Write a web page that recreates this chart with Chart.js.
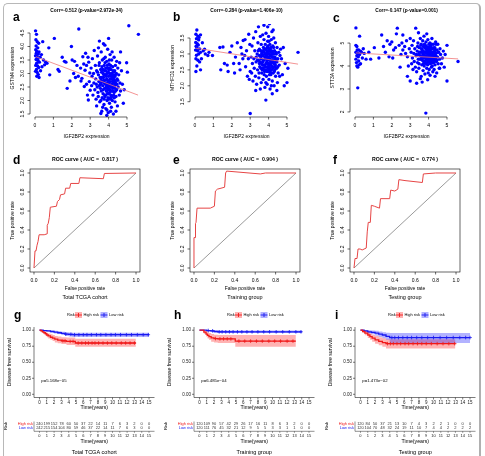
<!DOCTYPE html>
<html><head><meta charset="utf-8">
<script src="https://cdn.jsdelivr.net/npm/chart.js@4.4.1/dist/chart.umd.min.js"></script>
<style>
html,body{margin:0;padding:0;background:#fff;}
#wrap{position:relative;width:485px;height:456px;overflow:hidden;background:#fff;}
#frame{position:absolute;left:3px;top:3px;width:478px;height:480px;border:1px solid #b8b8b8;border-right:2px solid #b0b0b0;border-radius:5px;box-sizing:border-box;}
canvas{position:absolute;}
</style></head><body>
<div id="wrap"><div id="frame"></div>
<canvas id="cA" width="160" height="140" style="left:0;top:0"></canvas>
<canvas id="cB" width="160" height="140" style="left:160px;top:0"></canvas>
<canvas id="cC" width="160" height="140" style="left:320px;top:0"></canvas>
<canvas id="cD" width="160" height="160" style="left:0;top:140px"></canvas>
<canvas id="cE" width="160" height="160" style="left:160px;top:140px"></canvas>
<canvas id="cF" width="160" height="160" style="left:320px;top:140px"></canvas>
<canvas id="cG" width="160" height="156" style="left:0;top:300px"></canvas>
<canvas id="cH" width="160" height="156" style="left:160px;top:300px"></canvas>
<canvas id="cI" width="160" height="156" style="left:321px;top:300px"></canvas>
</div>
<script>
// ---------------- DATA ----------------
const scatterTicksX = [0,1,2,3,4,5];
const scatterA = [[0.03,4.58],[0.08,4.45],[0.05,4.25],[0.12,4.18],[0.2,4.12],[0.06,4.02],[0.15,3.95],[0.04,3.88],[0.1,3.82],[0.22,3.8],[0.07,3.75],[0.18,3.72],[0.03,3.66],[0.12,3.62],[0.28,3.6],[0.06,3.52],[0.16,3.48],[0.24,3.42],[0.09,3.38],[0.04,3.3],[0.14,3.28],[0.2,3.22],[0.08,3.15],[0.03,3.08],[0.12,3.04],[0.18,2.96],[0.1,2.9],[0.22,2.85],[0.3,3.1],[0.35,3.7],[0.42,4.18],[0.46,3.5],[0.52,3.32],[0.58,3.42],[0.65,3.38],[0.38,3.25],[0.15,3.55],
[0.75,3.95],[0.8,2.95],[1.05,4.3],[1.25,3.15],[1.32,3.08],[1.48,3.6],[1.68,3.42],[1.75,2.45],[1.9,2.72],[1.98,4.0],[2.02,3.5],[2.1,3.0],[2.15,3.45],[2.28,3.3],[2.38,4.65],[2.35,2.9],[2.48,3.2],[2.55,2.82],[2.6,3.62],[2.68,2.52],[2.72,3.12],[2.8,3.3],[2.85,2.2],[2.88,3.6],[2.9,2.02],[2.95,2.7],[2.98,3.02],[2.5,2.72],[2.65,3.35],[2.75,3.75],[2.92,3.42],[3.0,2.38],[2.8,2.6],[2.2,2.85],[1.6,3.45],
[3.05,3.2],[3.08,2.55],[3.1,2.9],[3.12,3.55],[3.15,2.2],[3.18,3.0],[3.2,2.65],[3.22,3.85],[3.25,2.4],[3.28,3.3],[3.3,2.8],[3.32,2.05],[3.35,3.1],[3.38,2.5],[3.4,3.65],[3.42,2.3],[3.45,2.95],[3.47,2.7],[3.5,3.4],[3.52,1.95],[3.55,2.6],[3.57,3.15],[3.6,2.35],[3.6,3.8],[3.62,2.85],[3.63,1.6],[3.65,2.1],[3.66,3.5],[3.68,2.55],[3.7,3.0],[3.7,2.25],[3.72,4.1],[3.73,2.75],[3.75,1.85],[3.76,3.3],[3.78,2.45],[3.8,2.95],[3.8,2.15],[3.82,3.6],[3.83,2.6],[3.85,1.7],[3.86,3.1],[3.88,2.35],[3.9,2.8],[3.9,3.45],[3.92,2.0],[3.93,2.65],[3.95,3.9],[3.96,2.5],[3.97,3.2],[3.98,1.55],[4.0,2.9],[4.0,2.25],[4.02,3.35],[4.03,2.7],[4.05,1.9],[4.06,3.0],[4.07,2.4],[4.08,3.7],[4.1,2.55],[4.1,2.1],[4.12,3.15],[4.13,2.8],[4.15,1.75],[4.16,2.35],[4.17,3.5],[4.18,2.6],[4.2,2.95],[4.2,2.0],[4.22,3.25],[4.23,2.45],[4.25,2.75],[4.26,1.5],[4.28,3.05],[4.3,2.3],[4.3,3.6],[4.32,2.55],[4.34,2.9],[4.35,1.95],[4.37,3.3],[4.38,2.65],[4.4,2.15],[4.42,3.0],[4.44,2.4],[4.46,2.8],[4.48,1.8],[4.5,3.2],[4.52,2.5],[4.55,2.95],[4.58,2.2],[4.6,3.4],[4.62,2.65],[4.65,2.35],[3.35,1.8],[3.45,3.95],[3.58,2.0],[3.74,3.55],[3.87,2.9],[3.94,2.25],[4.04,3.5],[4.14,2.05],[4.24,2.85],[4.36,2.7],[4.44,3.45],[3.68,1.75],[3.81,3.4],[4.01,2.55],[4.19,3.8],[3.91,1.65],[4.09,2.95],[3.77,2.65],[3.99,3.05],[4.27,2.2],[3.54,2.85],[3.64,3.25],[4.11,1.6],[3.84,2.2],[4.33,3.1],
[3.55,2.45],[3.62,3.05],[3.67,2.7],[3.71,2.4],[3.74,2.95],[3.79,2.2],[3.81,2.75],[3.84,3.2],[3.86,2.45],[3.89,2.6],[3.91,3.0],[3.94,2.75],[3.96,2.1],[3.99,2.4],[4.01,3.15],[4.04,2.6],[4.06,2.3],[4.08,2.8],[4.11,3.3],[4.13,2.5],[4.15,2.9],[4.18,2.15],[4.21,2.7],[4.24,3.1],[4.26,2.5],[4.29,2.85],[4.31,2.1],[4.34,2.45],[4.37,2.95],[4.4,2.6],[3.6,2.65],[3.69,3.15],[3.76,2.05],[3.83,2.95],[3.87,2.5],[3.93,3.3],[3.97,2.6],[4.02,2.05],[4.07,2.7],[4.12,2.2],[4.17,3.0],[4.22,2.35],[4.27,2.65],[4.32,2.75],[3.5,2.55],[3.44,2.15],[3.4,3.05],[3.48,3.3],[3.58,2.75],[3.72,2.85],[3.78,3.1],[3.9,2.35],[4.0,2.45],[4.05,3.2],[4.16,2.55],[4.23,2.95],[4.38,2.35],[4.45,2.6],[4.5,2.75],[3.33,2.6],
[5.1,4.77],[5.62,4.45],[4.98,3.4],[5.02,3.05],[4.75,2.6],[4.85,2.4],[4.7,3.1],[4.8,1.9],[3.58,1.52],[3.9,1.45],[4.4,1.6],[4.65,3.8],[3.5,4.2],[3.8,4.05],[4.0,4.3]];
const regA = [[0.05,3.62],[5.6,2.2]];

const scatterB = [[0.1,3.75],[0.05,3.62],[0.15,3.56],[0.3,3.6],[0.08,3.48],[0.2,3.44],[0.04,3.36],[0.12,3.32],[0.18,3.28],[0.06,3.24],[0.1,3.2],[0.25,3.16],[0.03,3.12],[0.14,3.1],[0.3,3.05],[0.2,3.0],[0.08,2.96],[0.05,2.85],[0.16,2.8],[0.25,2.75],[0.1,2.62],[0.3,2.5],[0.05,2.45],[0.35,2.85],[0.45,3.1],[0.52,3.15],[0.56,3.0],[0.7,2.95],[0.76,3.05],[0.95,2.95],[0.4,3.35],[0.22,3.52],
[1.35,3.2],[1.4,2.5],[1.52,3.22],[1.75,2.65],[1.8,2.45],[1.9,3.05],[2.0,3.25],[2.1,2.7],[2.15,2.4],[2.3,3.35],[2.4,2.7],[2.45,2.5],[2.55,3.0],[2.62,3.42],[2.72,3.45],[2.75,2.6],[2.8,3.1],[2.85,2.3],[2.95,2.2],[2.92,3.62],[3.0,1.13],[2.2,2.9],[2.6,2.85],[2.9,2.85],[2.5,3.2],[2.7,2.95],[2.98,3.3],[3.0,2.45],[1.6,2.7],
[3.05,2.9],[3.08,2.4],[3.1,3.25],[3.12,2.7],[3.15,2.15],[3.18,3.5],[3.2,2.85],[3.22,2.55],[3.25,3.1],[3.28,2.3],[3.3,3.7],[3.32,2.75],[3.35,2.05],[3.38,3.0],[3.4,2.5],[3.42,3.35],[3.45,2.8],[3.47,2.25],[3.5,3.15],[3.52,2.6],[3.55,3.55],[3.57,2.9],[3.6,2.1],[3.6,3.3],[3.62,2.7],[3.63,2.4],[3.65,3.05],[3.66,2.95],[3.68,3.6],[3.7,2.55],[3.7,2.2],[3.72,3.2],[3.73,2.8],[3.75,3.45],[3.76,2.35],[3.78,2.65],[3.8,3.0],[3.8,1.95],[3.82,3.3],[3.83,2.5],[3.85,2.85],[3.86,3.65],[3.88,2.3],[3.9,2.75],[3.9,3.1],[3.92,2.05],[3.93,2.6],[3.95,3.4],[3.96,2.9],[3.97,2.45],[3.98,3.2],[4.0,2.7],[4.0,3.55],[4.02,2.2],[4.03,3.0],[4.05,2.55],[4.06,2.85],[4.07,3.3],[4.08,1.9],[4.1,2.65],[4.1,3.1],[4.12,2.35],[4.13,2.95],[4.15,3.45],[4.16,2.5],[4.17,2.8],[4.18,3.7],[4.2,2.15],[4.2,3.0],[4.22,2.6],[4.23,3.25],[4.25,2.4],[4.26,2.9],[4.28,3.5],[4.3,2.7],[4.3,2.0],[4.32,3.1],[4.34,2.5],[4.35,2.85],[4.37,3.35],[4.38,2.3],[4.4,2.75],[4.42,3.0],[4.44,2.55],[4.46,3.2],[4.48,2.1],[4.5,2.85],[4.52,2.4],[4.55,3.05],[4.58,2.65],[4.6,2.3],[4.62,2.95],[4.65,3.15],[3.95,3.85],[3.75,3.9],[4.05,3.95],[3.45,3.85],[3.85,2.1],[3.65,2.5],[4.15,2.0],[4.25,3.75],[3.5,2.95],[3.58,3.1],[3.78,3.15],[3.98,2.55],[4.12,2.75],[4.33,2.6],[3.88,2.95],[4.02,3.4],[3.7,2.95],[3.92,3.2],[4.08,2.45],
[3.55,2.75],[3.62,3.0],[3.67,2.65],[3.71,3.1],[3.74,2.5],[3.79,2.9],[3.81,2.6],[3.84,3.15],[3.86,2.7],[3.89,3.0],[3.91,2.45],[3.94,2.8],[3.96,3.25],[3.99,2.6],[4.01,2.9],[4.04,3.15],[4.06,2.65],[4.08,2.95],[4.11,2.4],[4.13,3.2],[4.15,2.7],[4.18,2.9],[4.21,3.05],[4.24,2.55],[4.26,2.75],[4.29,3.0],[4.31,2.45],[4.34,2.9],[4.37,2.65],[4.4,3.05],[3.6,2.85],[3.69,2.75],[3.76,3.05],[3.83,2.85],[3.87,2.5],[3.93,3.05],[3.97,2.7],[4.02,2.5],[4.07,2.8],[4.12,3.05],[4.17,2.6],[4.22,2.8],[4.27,3.2],[4.32,2.7],[3.5,2.7],[3.44,3.1],[3.4,2.8],[3.48,2.4],[3.58,2.55],[3.72,2.65],[3.78,2.45],[3.9,2.85],[4.0,3.1],[4.05,2.35],[4.16,3.1],[4.23,2.9],[4.38,2.85],[4.45,2.75],[4.5,2.6],[3.33,2.9],
[5.6,3.05],[5.0,2.1],[4.9,2.7],[5.05,2.55],[4.2,1.75],[3.85,1.55],[4.7,2.85],[4.8,3.2],[4.75,2.35],[4.85,2.0],[3.3,1.85],[3.55,1.9],[4.45,1.85]];
const regB = [[0.05,3.18],[5.6,2.68]];

const scatterC = [[0.05,5.66],[0.25,5.3],[0.05,4.9],[0.1,4.85],[0.2,4.7],[0.05,4.6],[0.15,4.55],[0.1,4.45],[0.25,4.5],[0.05,4.3],[0.2,4.22],[0.3,4.1],[0.1,4.0],[0.15,3.95],[0.35,4.6],[0.5,4.55],[0.6,4.3],[0.75,4.6],[0.85,4.3],[1.05,4.8],[0.15,3.05],[0.08,4.15],[0.18,4.4],[0.3,4.65],[0.4,4.35],[0.12,4.7],[0.22,4.05],[0.45,4.75],
[1.3,4.35],[1.45,5.35],[1.55,4.85],[1.75,5.1],[1.85,4.4],[1.9,4.95],[2.05,4.35],[2.1,4.7],[2.25,5.4],[2.3,5.65],[2.45,3.95],[2.5,4.5],[2.6,5.35],[2.7,4.85],[2.75,4.55],[2.85,3.55],[2.9,4.0],[3.0,3.35],[2.4,4.9],[2.6,4.7],[2.8,5.1],[2.95,4.75],[2.55,5.0],[2.2,4.8],[2.85,4.4],[3.0,5.2],[1.65,4.6],[2.0,5.05],
[3.05,4.6],[3.08,4.1],[3.1,4.9],[3.12,4.35],[3.15,3.85],[3.18,5.1],[3.2,4.55],[3.22,4.2],[3.25,4.75],[3.28,3.95],[3.3,5.65],[3.32,4.45],[3.35,3.75],[3.38,4.65],[3.4,4.15],[3.42,5.0],[3.45,4.5],[3.47,3.9],[3.5,4.8],[3.52,4.3],[3.55,5.2],[3.57,4.6],[3.6,3.55],[3.6,4.95],[3.62,4.4],[3.63,4.05],[3.65,4.7],[3.66,4.25],[3.68,5.1],[3.7,4.5],[3.7,3.8],[3.72,4.85],[3.73,4.35],[3.75,5.3],[3.76,4.0],[3.78,4.6],[3.8,4.2],[3.8,3.65],[3.82,4.9],[3.83,4.45],[3.85,1.95],[3.85,4.75],[3.86,5.05],[3.88,4.1],[3.9,4.55],[3.9,3.9],[3.92,4.3],[3.93,4.8],[3.95,4.05],[3.96,5.15],[3.97,4.4],[3.98,3.7],[4.0,4.65],[4.0,4.2],[4.02,4.95],[4.03,3.85],[4.05,4.5],[4.06,4.3],[4.07,5.0],[4.08,3.6],[4.1,4.7],[4.1,4.1],[4.12,4.4],[4.13,4.85],[4.15,3.95],[4.16,4.6],[4.17,4.25],[4.18,5.2],[4.2,4.0],[4.2,4.5],[4.22,4.75],[4.23,3.75],[4.25,4.35],[4.26,4.95],[4.28,4.15],[4.3,4.6],[4.3,3.85],[4.32,4.45],[4.34,4.8],[4.35,4.05],[4.37,4.3],[4.38,5.05],[4.4,4.55],[4.42,4.2],[4.44,3.7],[4.46,4.7],[4.48,4.4],[4.5,4.95],[4.52,4.1],[4.55,4.6],[4.58,3.9],[4.6,4.3],[4.62,4.75],[4.65,4.5],[3.35,3.25],[3.55,3.45],[3.95,3.4],[4.35,3.55],[3.65,3.3],[3.45,5.45],[3.9,5.4],
[3.55,4.45],[3.62,4.75],[3.67,4.4],[3.71,4.65],[3.74,4.2],[3.79,4.8],[3.81,4.35],[3.84,4.6],[3.86,4.25],[3.89,4.85],[3.91,4.4],[3.94,4.65],[3.96,4.15],[3.99,4.5],[4.01,4.8],[4.04,4.35],[4.06,4.65],[4.08,4.2],[4.11,4.55],[4.13,4.3],[4.15,4.75],[4.18,4.45],[4.21,4.15],[4.24,4.6],[4.26,4.4],[4.29,4.8],[4.31,4.25],[4.34,4.55],[4.37,4.7],[4.4,4.35],[3.6,4.3],[3.69,4.55],[3.76,4.45],[3.83,4.15],[3.87,4.6],[3.93,4.3],[3.97,4.7],[4.02,4.45],[4.07,4.85],[4.12,4.15],[4.17,4.4],[4.22,4.55],[4.27,4.25],[4.32,4.65],[3.5,4.6],[3.44,4.3],[3.4,4.85],[3.48,4.1],[3.58,4.9],[3.72,4.1],[3.78,4.95],[3.9,4.7],[4.0,4.35],[4.05,4.6],[4.16,4.95],[4.23,4.35],[4.38,4.45],[4.45,4.25],[4.5,4.6],[3.33,4.5],
[5.0,4.9],[5.0,3.35],[5.6,4.2],[4.6,3.9],[4.4,4.95],[4.75,4.35],[4.8,4.65],[4.7,4.1],[4.85,3.95],[4.9,4.5]];
const regC = [[0.05,4.57],[5.6,4.31]];

const rocTicks = [0,0.2,0.4,0.6,0.8,1.0];
const rocD_fpr = [0,0.01,0.02,0.03,0.04,0.05,0.1,0.13,0.13,0.14,0.15,0.16,0.22,0.23,0.25,0.26,0.3,0.31,0.35,0.36,0.44,0.45,0.68,0.69,1.0];
const rocD_tpr = [0,0.18,0.18,0.24,0.28,0.35,0.35,0.36,0.45,0.47,0.53,0.64,0.65,0.7,0.72,0.77,0.78,0.84,0.84,0.89,0.89,0.95,0.94,0.995,1.0];
const rocE_fpr = [0,0,0.01,0.015,0.02,0.03,0.16,0.2,0.21,0.23,0.3,0.31,0.32,0.65,0.7,1.0];
const rocE_tpr = [0,0.32,0.32,0.47,0.48,0.63,0.63,0.65,0.81,0.83,0.85,1.0,1.02,0.99,1.0,1.0];
const rocF_fpr = [0,0.01,0.03,0.04,0.06,0.08,0.12,0.13,0.14,0.16,0.17,0.2,0.25,0.26,0.35,0.36,0.4,0.43,0.44,0.5,0.67,0.68,0.8,1.0];
const rocF_tpr = [0,0.1,0.1,0.2,0.2,0.19,0.21,0.38,0.48,0.48,0.66,0.65,0.63,0.73,0.73,0.82,0.81,0.83,0.93,0.92,0.9,0.99,1.0,1.0];

const kmTicksX = [0,1,2,3,4,5,6,7,8,9,10,11,12,13,14,15];
const kmTicksY = [0,0.25,0.5,0.75,1.0];

const gHighT = [0,0.2,0.4,0.6,0.8,1.0,1.2,1.5,1.8,2.1,2.5,3.0,3.7,4.9,13.2];
const gHighS = [1,0.99,0.975,0.96,0.945,0.925,0.91,0.89,0.875,0.86,0.845,0.835,0.825,0.80,0.80];
const gHighU = [1,1,0.995,0.985,0.975,0.96,0.95,0.935,0.925,0.91,0.9,0.89,0.885,0.865,0.865];
const gHighL = [1,0.975,0.955,0.935,0.915,0.89,0.87,0.85,0.83,0.81,0.795,0.785,0.77,0.74,0.74];
const gLowT = [0,0.5,1.0,1.5,2.0,2.5,3.0,3.5,4.0,4.5,15];
const gLowS = [1,0.995,0.99,0.98,0.97,0.96,0.95,0.94,0.935,0.93,0.93];
const gLowU = [1,1,1,0.995,0.99,0.985,0.975,0.97,0.965,0.962,0.962];
const gLowL = [1,0.985,0.975,0.965,0.95,0.94,0.925,0.91,0.9,0.895,0.895];
const gHighC = [3.2,3.5,4.2,4.6,5.3,5.8,6.3,6.7,7.2,7.6,8.1,8.7,9.3,9.9,10.5,11.2,11.8,12.4,13.0];
const gLowC = [3.6,4.3,4.8,5.4,6.0,6.5,7.1,7.8,8.4,9.1,9.8,10.4,11.1,11.9,12.6,13.4,14.2,14.9];
const gRiskHigh = [240,199,152,78,60,50,37,22,14,11,7,6,3,2,0,0];
const gRiskLow = [242,215,154,104,80,59,46,37,22,14,11,7,6,3,0,0];

const hHighT = [0,0.6,0.9,1.1,1.3,1.6,2.0,2.5,4.9,13.2];
const hHighS = [1,0.97,0.94,0.92,0.9,0.88,0.87,0.865,0.83,0.83];
const hHighU = [1,1,0.985,0.97,0.955,0.94,0.93,0.925,0.925,0.925];
const hHighL = [1,0.94,0.9,0.87,0.85,0.82,0.81,0.8,0.74,0.74];
const hLowT = [0,1.0,1.5,2.0,2.5,14];
const hLowS = [1,0.995,0.99,0.98,0.975,0.975];
const hLowU = [1,1,1,0.998,0.995,0.995];
const hLowL = [1,0.985,0.975,0.96,0.955,0.955];
const hHighC = [2.2,2.8,3.3,3.8,4.3,5.4,6.2,7.0,7.8,8.6,9.5,10.3,11.1,12.0,12.8];
const hLowC = [1.2,1.8,2.7,3.1,3.6,4.1,4.6,5.2,5.8,6.5,7.2,8.0,8.8,9.6,10.5,11.4,12.3,13.2,13.9];
const hRiskHigh = [120,109,90,57,42,29,26,17,16,11,8,6,3,2,0,0];
const hRiskLow = [120,111,76,45,32,21,12,9,5,5,3,3,1,1,0,0];

const iHighT = [0,0.3,0.6,1.0,1.3,1.6,2.0,2.5,3.0,3.5,13];
const iHighS = [1,0.98,0.955,0.925,0.9,0.875,0.85,0.825,0.805,0.79,0.79];
const iHighU = [1,1,0.99,0.97,0.95,0.93,0.91,0.89,0.875,0.86,0.86];
const iHighL = [1,0.96,0.92,0.88,0.85,0.82,0.79,0.765,0.74,0.715,0.715];
const iLowT = [0,0.5,1.0,1.5,2.0,2.5,3.0,3.5,4.0,15];
const iLowS = [1,0.99,0.975,0.965,0.955,0.94,0.925,0.905,0.885,0.885];
const iLowU = [1,1,1,0.995,0.99,0.98,0.97,0.96,0.955,0.955];
const iLowL = [1,0.97,0.95,0.935,0.915,0.895,0.875,0.85,0.80,0.80];
const iHighC = [3.7,4.1,4.5,5.0,5.5,6.1,6.6,7.2,7.8,8.4,9.0,9.7,10.5,11.3,12.1,12.9];
const iLowC = [4.3,4.7,5.2,5.8,6.4,7.0,7.7,8.4,9.2,10.0,10.9,11.8,12.7,13.6,14.4,15.0];
const iRiskHigh = [120,84,50,37,21,13,10,7,4,3,2,2,1,0,0,0];
const iRiskLow = [120,104,70,48,32,24,19,11,10,7,4,4,2,2,2,2];

// ---------------- HELPERS ----------------
const FONT = '"Liberation Sans", Arial, Helvetica, sans-serif';
const ROT = -Math.PI/2;
function T(ctx,s,x,y,size,o){o=o||{};ctx.save();ctx.font=(o.bold?'bold ':'')+size+'px '+FONT;ctx.fillStyle=o.color||'#000';ctx.textAlign=o.align||'center';ctx.textBaseline=o.base||'middle';ctx.translate(x,y);if(o.rot)ctx.rotate(o.rot);ctx.fillText(s,0,0);ctx.restore();}
const pts = arr => arr.map(p=>({x:p[0],y:p[1]}));
const zip = (xs,ys) => xs.map((v,i)=>({x:v,y:ys[i]}));
function survAt(t,s,x){let v=s[0];for(let i=0;i<t.length;i++){if(t[i]<=x)v=s[i];}return v;}
const baseOpts = (pad,xmin,xmax,ymin,ymax)=>({responsive:false,animation:false,events:[],
  layout:{padding:pad},plugins:{legend:{display:false},tooltip:{enabled:false},title:{display:false}},
  scales:{x:{type:'linear',min:xmin,max:xmax,display:false},y:{type:'linear',min:ymin,max:ymax,display:false}}});

// ---------------- SCATTER (row 1) ----------------
function scatterChart(id,data,reg,ymin,ymax,yt,yd,ylab,title,letter,ly){
  const deco={id:'deco',afterDraw(ch){const c=ch.ctx,a=ch.chartArea,x=ch.scales.x,y=ch.scales.y;
    c.save();c.strokeStyle='#000';c.lineWidth=0.6;c.beginPath();
    c.moveTo(x.getPixelForValue(scatterTicksX[0]),a.bottom);c.lineTo(x.getPixelForValue(scatterTicksX[scatterTicksX.length-1]),a.bottom);
    scatterTicksX.forEach(v=>{const p=x.getPixelForValue(v);c.moveTo(p,a.bottom);c.lineTo(p,a.bottom+2.5);});
    c.moveTo(a.left,y.getPixelForValue(yt[0]));c.lineTo(a.left,y.getPixelForValue(yt[yt.length-1]));
    yt.forEach(v=>{const p=y.getPixelForValue(v);c.moveTo(a.left,p);c.lineTo(a.left-2.5,p);});
    c.stroke();c.restore();
    scatterTicksX.forEach(v=>T(c,String(v),x.getPixelForValue(v),a.bottom+9,5));
    yt.forEach(v=>T(c,v.toFixed(yd),a.left-7,y.getPixelForValue(v),5,{rot:ROT}));
    T(c,'IGF2BP2 expression',(a.left+a.right)/2,137,5);
    T(c,ylab,13,68,5,{rot:ROT});
    T(c,title,(a.left+a.right)/2,11,4.8,{bold:true});
    T(c,letter,13,ly,12,{bold:true,align:'left',base:'alphabetic'});
  }};
  new Chart(document.getElementById(id),{type:'scatter',
    data:{datasets:[
      {data:pts(reg),showLine:true,borderColor:'#f07878',borderWidth:0.8,pointRadius:0,order:0},
      {data:pts(data),pointRadius:1.7,backgroundColor:'#0000ff',borderWidth:0,order:1}
    ]},
    options:baseOpts({left:30,top:24,right:17,bottom:23},-0.272,5.87,ymin,ymax),plugins:[deco]});
}
scatterChart('cA',scatterA,regA,1.389,4.833,[1.5,2.0,2.5,3.0,3.5,4.0,4.5],1,'GSTM4 expression','Corr=-0.512 (p-value=2.972e-34)','a',21);
scatterChart('cB',scatterB,regB,1.02,3.94,[1.5,2.0,2.5,3.0,3.5],1,'MTHFD1 expression','Corr=-0.284 (p-value=1.406e-10)','b',21);
scatterChart('cC',scatterC,regC,1.78,5.83,[2,3,4,5],0,'STT3A expression','Corr=-0.147 (p-value=0.001)','c',22);

// ---------------- ROC (row 2) ----------------
function rocChart(id,fpr,tpr,auc,caption,letter){
  const deco={id:'deco',afterDraw(ch){const c=ch.ctx,a=ch.chartArea,x=ch.scales.x,y=ch.scales.y;
    c.save();c.strokeStyle='#000';c.lineWidth=0.6;c.strokeRect(a.left,a.top,a.width,a.height);c.beginPath();
    rocTicks.forEach(v=>{const p=x.getPixelForValue(v);c.moveTo(p,a.bottom);c.lineTo(p,a.bottom+2.5);
      const q=y.getPixelForValue(v);c.moveTo(a.left,q);c.lineTo(a.left-2.5,q);});
    c.stroke();c.restore();
    rocTicks.forEach(v=>{T(c,v.toFixed(1),x.getPixelForValue(v),a.bottom+8.5,5);T(c,v.toFixed(1),a.left-7,y.getPixelForValue(v),5,{rot:ROT});});
    T(c,'False positive rate',(a.left+a.right)/2,149,5);
    T(c,caption,(a.left+a.right)/2,157.5,5.5);
    T(c,'True positive rate',13,(a.top+a.bottom)/2,5,{rot:ROT});
    T(c,'ROC curve ( AUC =  '+auc+' )',(a.left+a.right)/2,20,5.2,{bold:true});
    T(c,letter,13,24,12,{bold:true,align:'left',base:'alphabetic'});
  }};
  new Chart(document.getElementById(id),{type:'scatter',
    data:{datasets:[
      {data:zip(fpr,tpr),showLine:true,borderColor:'#e64545',borderWidth:1,pointRadius:0,order:0},
      {data:zip([0,1],[0,1]),showLine:true,borderColor:'#555',borderWidth:0.6,pointRadius:0,order:1}
    ]},
    options:baseOpts({left:30,top:29,right:20,bottom:28},-0.039,1.039,-0.042,1.042),plugins:[deco]});
}
rocChart('cD',rocD_fpr,rocD_tpr,'0.817','Total TCGA cohort','d');
rocChart('cE',rocE_fpr,rocE_tpr,'0.904','Training group','e');
rocChart('cF',rocF_fpr,rocF_tpr,'0.774','Testing group','f');

// ---------------- KM (row 3) ----------------
const RED='#f01818', BLUE='#1818f0';
function kmChart(id,H,L,pval,riskH,riskL,caption,letter){
  const deco={id:'deco',afterDraw(ch){const c=ch.ctx,a=ch.chartArea,x=ch.scales.x,y=ch.scales.y;
    c.save();c.strokeStyle='#222';c.lineWidth=0.6;c.beginPath();
    c.moveTo(a.left,a.top);c.lineTo(a.left,a.bottom);c.lineTo(a.right,a.bottom);
    kmTicksX.forEach(v=>{const p=x.getPixelForValue(v);c.moveTo(p,a.bottom);c.lineTo(p,a.bottom+2);});
    kmTicksY.forEach(v=>{const q=y.getPixelForValue(v);c.moveTo(a.left,q);c.lineTo(a.left-2,q);});
    c.stroke();
    kmTicksX.forEach(v=>T(c,String(v),x.getPixelForValue(v),a.bottom+5,4.5,{color:'#222'}));
    kmTicksY.forEach(v=>T(c,v.toFixed(2),a.left-3,y.getPixelForValue(v),4.5,{align:'right',color:'#222'}));
    T(c,'Time(years)',(a.left+a.right)/2,107.5,5.2);
    T(c,'Disease free survival',10,(a.top+a.bottom)/2,5.2,{rot:ROT});
    T(c,pval,x.getPixelForValue(0.25),81,4.3,{align:'left'});
    // legend
    T(c,'Risk',67,15,4,{align:'left'});
    const key=(x0,col,fill,label)=>{c.fillStyle=fill;c.fillRect(x0,12,7,6);c.strokeStyle=col;c.lineWidth=0.9;c.beginPath();c.moveTo(x0,15);c.lineTo(x0+7,15);c.moveTo(x0+3.5,13);c.lineTo(x0+3.5,17);c.stroke();T(c,label,x0+8.5,15,4,{align:'left'});};
    key(75,RED,'rgba(255,0,0,0.3)','High risk');
    key(100.5,BLUE,'rgba(0,0,255,0.3)','Low risk');
    // risk table
    const rh=124.2, rl=128.2, base=131.3;
    T(c,'Risk',6,126,4.2,{rot:ROT});
    T(c,'High risk',a.left-1,rh,3.9,{align:'right',color:RED});
    T(c,'Low risk',a.left-1,rl,3.9,{align:'right',color:BLUE});
    kmTicksX.forEach((v,i)=>{const p=x.getPixelForValue(v);T(c,String(riskH[i]),p,rh,4,{color:'#333'});T(c,String(riskL[i]),p,rl,4,{color:'#333'});});
    c.strokeStyle='#222';c.lineWidth=0.5;c.beginPath();c.moveTo(a.left,121.5);c.lineTo(a.left,base);c.lineTo(a.right,base);
    kmTicksX.forEach(v=>{const p=x.getPixelForValue(v);c.moveTo(p,base);c.lineTo(p,base+1.5);});
    c.stroke();
    kmTicksX.forEach(v=>T(c,String(v),x.getPixelForValue(v),base+4.2,4,{color:'#222'}));
    T(c,'Time(years)',(a.left+a.right)/2,141.7,5.2);
    T(c,caption,(a.left+a.right)/2,152.7,5.5);
    T(c,letter,14,19,12,{bold:true,align:'left',base:'alphabetic'});
    c.restore();
  }};
  const ds=[
    {data:zip(H.t,H.u),borderWidth:0,pointRadius:0,stepped:true,fill:false,order:2},
    {data:zip(H.t,H.l),borderWidth:0,pointRadius:0,stepped:true,fill:0,backgroundColor:'rgba(255,0,0,0.3)',order:2},
    {data:zip(L.t,L.u),borderWidth:0,pointRadius:0,stepped:true,fill:false,order:1},
    {data:zip(L.t,L.l),borderWidth:0,pointRadius:0,stepped:true,fill:2,backgroundColor:'rgba(0,0,255,0.3)',order:1},
    {data:zip(H.t,H.s),borderColor:RED,borderWidth:1.3,pointRadius:0,stepped:true,fill:false,order:0},
    {data:zip(L.t,L.s),borderColor:BLUE,borderWidth:1.3,pointRadius:0,stepped:true,fill:false,order:0},
    {data:H.c.map(v=>({x:v,y:survAt(H.t,H.s,v)})),showLine:false,pointStyle:'cross',pointRadius:1.8,borderColor:RED,borderWidth:0.8,order:0},
    {data:L.c.map(v=>({x:v,y:survAt(L.t,L.s,v)})),showLine:false,pointStyle:'cross',pointRadius:1.8,borderColor:BLUE,borderWidth:0.8,order:0}
  ];
  new Chart(document.getElementById(id),{type:'line',data:{datasets:ds},
    options:baseOpts({left:34,top:27,right:5.5,bottom:58.5},-0.75,15.75,-0.05,1.05),plugins:[deco]});
}
kmChart('cG',{t:gHighT,s:gHighS,u:gHighU,l:gHighL,c:gHighC},{t:gLowT,s:gLowS,u:gLowU,l:gLowL,c:gLowC},'p=5.168e\u221205',gRiskHigh,gRiskLow,'Total TCGA cohort','g');
kmChart('cH',{t:hHighT,s:hHighS,u:hHighU,l:hHighL,c:hHighC},{t:hLowT,s:hLowS,u:hLowU,l:hLowL,c:hLowC},'p=6.485e\u221204',hRiskHigh,hRiskLow,'Training group','h');
kmChart('cI',{t:iHighT,s:iHighS,u:iHighU,l:iHighL,c:iHighC},{t:iLowT,s:iLowS,u:iLowU,l:iLowL,c:iLowC},'p=1.473e\u221202',iRiskHigh,iRiskLow,'Testing group','i');
</script>
</body></html>
